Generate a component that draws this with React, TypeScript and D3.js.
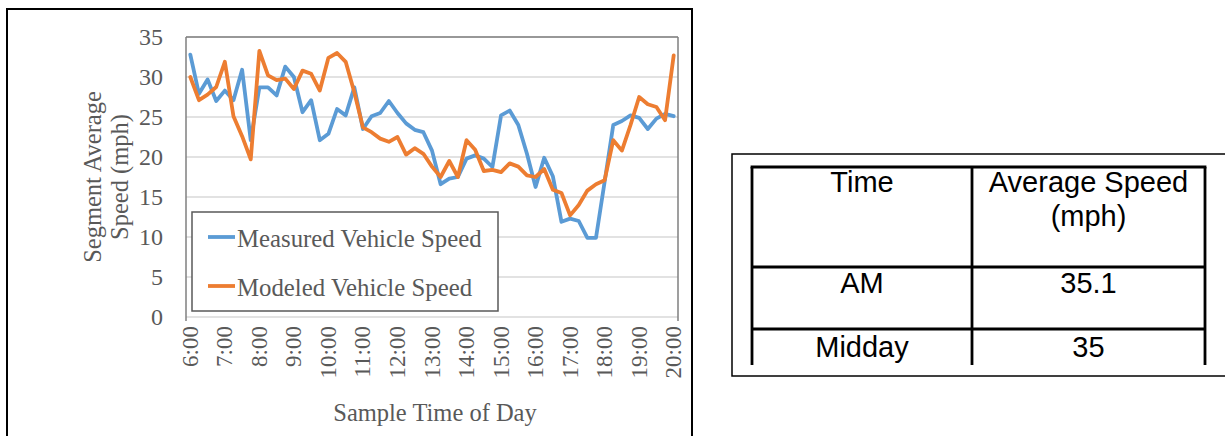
import React from "react";
import * as d3 from "d3";

const tickLabels = ["6:00","7:00","8:00","9:00","10:00","11:00","12:00","13:00","14:00","15:00","16:00","17:00","18:00","19:00","20:00"];

const measured = [32.8,27.9,29.7,27.0,28.3,27.1,30.9,22.1,28.7,28.7,27.7,31.3,30.0,25.6,27.1,22.1,22.9,26.0,25.2,28.7,23.5,25.1,25.5,27.0,25.5,24.2,23.4,23.1,20.8,16.6,17.3,17.5,19.8,20.2,19.8,18.75,25.2,25.8,24.0,20.4,16.25,19.9,17.6,11.9,12.3,12.0,9.9,9.9,16.9,24.0,24.5,25.2,24.9,23.5,24.8,25.4,25.1];

const modeled = [30.0,27.1,27.8,28.75,31.9,25.1,22.6,19.7,33.25,30.2,29.6,29.8,28.5,30.8,30.4,28.3,32.4,33.0,31.9,28.1,23.7,23.1,22.3,21.9,22.5,20.3,21.1,20.4,18.8,17.5,19.5,17.5,22.1,20.9,18.25,18.4,18.1,19.2,18.8,17.7,17.5,18.5,15.9,15.5,12.7,14.0,15.8,16.6,17.1,22.1,20.8,24.0,27.5,26.6,26.25,24.6,32.7];

const yTicks = [0,5,10,15,20,25,30,35];

const seriesNames = ["Measured Vehicle Speed","Modeled Vehicle Speed"];
const seriesColors = ["#5B9BD5","#ED7D31"];

const tableHeader = ["Time", "Average Speed", "(mph)"];
const tableTimes = ["AM","Midday"];
const tableSpeeds = ["35.1","35"];

const W = 1225, H = 436;
const PL = 186, PR = 678, PT = 37, PB = 317;
const SERIF = "'Liberation Serif', 'Times New Roman', serif";
const SANS = "'Liberation Sans', Arial, sans-serif";
const TXT = "#595959";

export default function App() {
  const idx = d3.range(measured.length);
  const x = d3.scalePoint<number>().domain(idx).range([PL, PR]).padding(0.5);
  const y = d3.scaleLinear().domain([0, 35]).range([PB, PT]);
  const line = d3.line<number>().x((_, i) => x(i) as number).y(d => y(d));
  const series = [measured, modeled];

  // table geometry
  const tL = 752, tM = 972, tR = 1205, tT = 167, r1 = 267, r2 = 329, tB = 365;
  const c1 = (tL + tM) / 2, c2 = (tM + tR) / 2;

  return (
    <svg width={W} height={H} style={{ position: "absolute", left: 0, top: 0, background: "#fff" }}>
      {/* outer chart frame */}
      <rect x={7} y={9} width={685} height={460} fill="none" stroke="#000" strokeWidth={2} />
      {/* gridlines */}
      {yTicks.map(t => (
        <line key={t} x1={PL} x2={PR} y1={y(t)} y2={y(t)} stroke="#d9d9d9" strokeWidth={1.5} />
      ))}
      {/* plot area border */}
      <line x1={PL} x2={PR} y1={PT} y2={PT} stroke="#7f7f7f" strokeWidth={1.5} />
      <line x1={PL} x2={PL} y1={PT} y2={PB + 4} stroke="#7f7f7f" strokeWidth={1.5} />
      <line x1={PR} x2={PR} y1={PT} y2={PB + 4} stroke="#7f7f7f" strokeWidth={1.5} />
      {/* y tick labels */}
      {yTicks.map(t => (
        <text key={t} x={163} y={y(t)} textAnchor="end" dominantBaseline="central"
          fontFamily={SERIF} fontSize={24} fill={TXT}>{t}</text>
      ))}
      {/* x tick labels */}
      {tickLabels.map((lab, k) => {
        const px = x(k * 4) as number;
        return (
          <text key={lab} transform={`translate(${px},326) rotate(-90)`} textAnchor="end"
            dominantBaseline="central" fontFamily={SERIF} fontSize={23} fill={TXT}>{lab}</text>
        );
      })}
      {/* axis titles */}
      <text transform="translate(92,177) rotate(-90)" textAnchor="middle" dominantBaseline="central"
        fontFamily={SERIF} fontSize={24.5} fill={TXT}>Segment Average</text>
      <text transform="translate(119,177) rotate(-90)" textAnchor="middle" dominantBaseline="central"
        fontFamily={SERIF} fontSize={24.5} fill={TXT}>Speed (mph)</text>
      <text x={435} y={421} textAnchor="middle" fontFamily={SERIF} fontSize={24.5} fill={TXT}>Sample Time of Day</text>
      {/* series */}
      {series.map((s, k) => (
        <path key={k} d={line(s) || ""} fill="none" stroke={seriesColors[k]} strokeWidth={3.8}
          strokeLinejoin="round" strokeLinecap="round" />
      ))}
      {/* legend */}
      <rect x={192} y={212} width={306} height={99} fill="#fff" stroke="#595959" strokeWidth={1.5} />
      {seriesNames.map((n, k) => (
        <g key={n}>
          <line x1={208} x2={235} y1={237 + k * 49} y2={237 + k * 49} stroke={seriesColors[k]} strokeWidth={3.8} />
          <text x={237} y={238 + k * 49} dominantBaseline="central" fontFamily={SERIF} fontSize={24.8} fill={TXT}>{n}</text>
        </g>
      ))}
      {/* table outer box */}
      <rect x={732} y={154} width={520} height={222} fill="none" stroke="#000" strokeWidth={1.5} />
      {/* table lines */}
      <line x1={tL - 1.4} x2={tR + 1.4} y1={tT} y2={tT} stroke="#000" strokeWidth={2.8} />
      <line x1={tL} x2={tR} y1={r1} y2={r1} stroke="#000" strokeWidth={2.8} />
      <line x1={tL} x2={tR} y1={r2} y2={r2} stroke="#000" strokeWidth={2.8} />
      {[tL, tM, tR].map(xx => (
        <line key={xx} x1={xx} x2={xx} y1={tT} y2={tB} stroke="#000" strokeWidth={2.8} />
      ))}
      <text x={c1} y={192} textAnchor="middle" fontFamily={SANS} fontSize={29} fill="#000">{tableHeader[0]}</text>
      <text x={c2} y={192} textAnchor="middle" fontFamily={SANS} fontSize={29} fill="#000">{tableHeader[1]}</text>
      <text x={c2} y={226} textAnchor="middle" fontFamily={SANS} fontSize={29} fill="#000">{tableHeader[2]}</text>
      {tableTimes.map((t, k) => (
        <g key={t}>
          <text x={c1} y={[293, 357][k]} textAnchor="middle" fontFamily={SANS} fontSize={29} fill="#000">{t}</text>
          <text x={c2} y={[293, 357][k]} textAnchor="middle" fontFamily={SANS} fontSize={29} fill="#000">{tableSpeeds[k]}</text>
        </g>
      ))}
    </svg>
  );
}
